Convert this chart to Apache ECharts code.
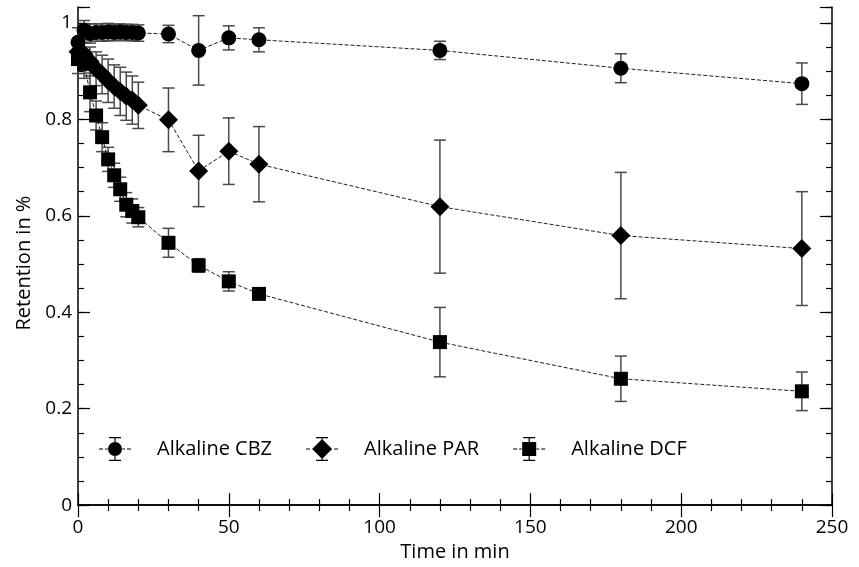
<!DOCTYPE html>
<html>
<head>
<meta charset="utf-8">
<script src="https://cdn.jsdelivr.net/npm/echarts@6/dist/echarts.min.js"></script>
<style>html,body{margin:0;padding:0;background:#fff}#c{width:859px;height:567px}</style>
</head>
<body>
<div id="c"></div>
<script>
const times = [0, 2, 4, 6, 8, 10, 12, 14, 16, 18, 20, 30, 40, 50, 60, 120, 180, 240];
const cbz = [0.96, 0.985, 0.978, 0.98, 0.98, 0.981, 0.98, 0.981, 0.98, 0.98, 0.979, 0.977, 0.943, 0.969, 0.965, 0.943, 0.906, 0.874];
const cbzErr = [0.03, 0.02, 0.02, 0.018, 0.018, 0.018, 0.017, 0.017, 0.017, 0.017, 0.017, 0.018, 0.072, 0.025, 0.025, 0.019, 0.03, 0.043];
const par = [0.94, 0.935, 0.92, 0.905, 0.893, 0.88, 0.868, 0.858, 0.848, 0.84, 0.829, 0.799, 0.693, 0.734, 0.707, 0.619, 0.559, 0.532];
const parErr = [0.02, 0.025, 0.03, 0.035, 0.04, 0.045, 0.045, 0.05, 0.05, 0.05, 0.048, 0.066, 0.074, 0.069, 0.078, 0.138, 0.131, 0.118];
const dcf = [0.925, 0.915, 0.856, 0.808, 0.763, 0.717, 0.684, 0.655, 0.623, 0.61, 0.597, 0.544, 0.497, 0.464, 0.438, 0.338, 0.262, 0.236];
const dcfErr = [0.03, 0.03, 0.04, 0.03, 0.03, 0.025, 0.025, 0.025, 0.025, 0.025, 0.02, 0.03, 0.014, 0.02, 0.005, 0.072, 0.047, 0.04];
const seriesNames = ['Alkaline CBZ', 'Alkaline PAR', 'Alkaline DCF'];
const xTitle = 'Time in min';
const yTitle = 'Retention in %';

const FONT = '"Open Sans", Lato, sans-serif';
const FS_TICK = 19;
const FS_TEXT = 20;
const pts = (vals) => times.map((t, i) => [t, vals[i]]);
const errPts = (vals, errs) => times.map((t, i) => [t, vals[i], errs[i]]);

function errRender(params, api) {
  const x = api.value(0), y = api.value(1), e = api.value(2);
  const top = api.coord([x, y + e]);
  const bot = api.coord([x, y - e]);
  const hw = 6;
  const style = { stroke: '#4a4a4a', lineWidth: 1.5 };
  return {
    type: 'group',
    children: [
      { type: 'line', shape: { x1: top[0], y1: top[1], x2: bot[0], y2: bot[1] }, style },
      { type: 'line', shape: { x1: top[0] - hw, y1: top[1], x2: top[0] + hw, y2: top[1] }, style },
      { type: 'line', shape: { x1: bot[0] - hw, y1: bot[1], x2: bot[0] + hw, y2: bot[1] }, style }
    ]
  };
}

// legend icons (32 x 24 box): dashed line, error bar and marker
const lineBits = (a, b) => `M0 11.5H4V12.5H0Z M6 11.5H${a}V12.5H6Z M${b} 11.5H26V12.5H${b}Z M28 11.5H32V12.5H28Z `;
const barBits = (t, bt) => `M15.4 0H16.6V${t}H15.4Z M15.4 ${bt}H16.6V24H15.4Z M10 0H22V1.2H10Z M10 22.8H22V24H10Z `;
const iconCircle = 'path://' + lineBits(8.6, 23.4) + barBits(5, 19) + 'M9 12A7 7 0 1 0 23 12A7 7 0 1 0 9 12Z';
const iconDiamond = 'path://M0 11.5H4V12.5H0Z M28 11.5H32V12.5H28Z ' + barBits(2.2, 21.8) + 'M16 2L26 12L16 22L6 12Z';
const iconSquare = 'path://' + lineBits(8.6, 23.4) + barBits(5, 19) + 'M9 5H23V19H9Z';

const yFmt = (v) => {
  const r = v / 0.2;
  if (Math.abs(r - Math.round(r)) > 1e-6) return '';
  return String(Math.round(r * 2) / 10);
};

const yBase = { type: 'value', min: 0, max: 1.033, splitLine: { show: false } };
const axLine = { show: true, lineStyle: { color: '#000', width: 1.5 } };

const option = {
  animation: false,
  backgroundColor: '#fff',
  grid: { left: 78, right: 27, top: 7, bottom: 59 },
  xAxis: [
    {
      type: 'value', min: 0, max: 250, interval: 50, position: 'bottom',
      name: xTitle, nameLocation: 'middle', nameGap: 34,
      nameTextStyle: { fontFamily: FONT, fontSize: FS_TEXT, color: '#000' },
      axisLine: axLine,
      axisTick: { inside: true, length: 12, lineStyle: { color: '#000', width: 1.2 } },
      minorTick: { show: true, splitNumber: 5, length: 6, lineStyle: { color: '#000', width: 1.2 } },
      axisLabel: { fontFamily: FONT, fontSize: FS_TICK, color: '#000', margin: 13 },
      splitLine: { show: false }, minorSplitLine: { show: false }
    },
    {
      type: 'value', min: 0, max: 250, interval: 50, position: 'top',
      axisLine: axLine,
      axisTick: { inside: true, length: 12, lineStyle: { color: '#000', width: 1.2 } },
      minorTick: { show: true, splitNumber: 5, length: 6, lineStyle: { color: '#000', width: 1.2 } },
      axisLabel: { show: false },
      splitLine: { show: false }, minorSplitLine: { show: false }
    }
  ],
  yAxis: [
    Object.assign({}, yBase, {
      position: 'left', interval: 0.05,
      name: yTitle, nameLocation: 'middle', nameGap: 35,
      nameTextStyle: { fontFamily: FONT, fontSize: FS_TEXT, color: '#000', padding: [0, 0, 0, -14] },
      axisLine: axLine,
      axisTick: { inside: true, length: 6, lineStyle: { color: '#000', width: 1.2 } },
      axisLabel: { fontFamily: FONT, fontSize: FS_TICK, color: '#000', margin: 6, formatter: yFmt }
    }),
    Object.assign({}, yBase, {
      position: 'left', interval: 0.2,
      axisLine: { show: false },
      axisTick: { inside: true, length: 12, lineStyle: { color: '#000', width: 1.2 } },
      axisLabel: { show: false }
    }),
    Object.assign({}, yBase, {
      position: 'right', interval: 0.05,
      axisLine: axLine,
      axisTick: { inside: true, length: 6, lineStyle: { color: '#000', width: 1.2 } },
      axisLabel: { show: false }
    }),
    Object.assign({}, yBase, {
      position: 'right', interval: 0.2,
      axisLine: { show: false },
      axisTick: { inside: true, length: 12, lineStyle: { color: '#000', width: 1.2 } },
      axisLabel: { show: false }
    })
  ],
  legend: {
    left: 94, top: 432, orient: 'horizontal',
    itemWidth: 32, itemHeight: 24, itemGap: 34,
    textStyle: { fontFamily: FONT, fontSize: FS_TEXT, color: '#000', padding: [0, 0, 0, 21] },
    data: [
      { name: seriesNames[0], icon: iconCircle, itemStyle: { color: '#000' } },
      { name: seriesNames[1], icon: iconDiamond, itemStyle: { color: '#000' } },
      { name: seriesNames[2], icon: iconSquare, itemStyle: { color: '#000' } }
    ]
  },
  series: [
    { type: 'custom', name: 'errDCF', renderItem: errRender, data: errPts(dcf, dcfErr), encode: { x: 0, y: 1 }, z: 1, silent: true },
    { type: 'custom', name: 'errPAR', renderItem: errRender, data: errPts(par, parErr), encode: { x: 0, y: 1 }, z: 1, silent: true },
    { type: 'custom', name: 'errCBZ', renderItem: errRender, data: errPts(cbz, cbzErr), encode: { x: 0, y: 1 }, z: 1, silent: true },
    {
      type: 'line', name: seriesNames[2], data: pts(dcf), z: 3,
      symbol: 'rect', symbolSize: 14, showAllSymbol: true,
      itemStyle: { color: '#000' },
      lineStyle: { color: '#222', width: 1, type: [4, 2] }
    },
    {
      type: 'line', name: seriesNames[1], data: pts(par), z: 3,
      symbol: 'diamond', symbolSize: 19, showAllSymbol: true,
      itemStyle: { color: '#000' },
      lineStyle: { color: '#222', width: 1, type: [4, 2] }
    },
    {
      type: 'line', name: seriesNames[0], data: pts(cbz), z: 3,
      symbol: 'circle', symbolSize: 15, showAllSymbol: true,
      itemStyle: { color: '#000' },
      lineStyle: { color: '#222', width: 1, type: [4, 2] }
    }
  ]
};

const chart = echarts.init(document.getElementById('c'), null, { renderer: 'canvas' });
chart.setOption(option);
</script>
</body>
</html>
